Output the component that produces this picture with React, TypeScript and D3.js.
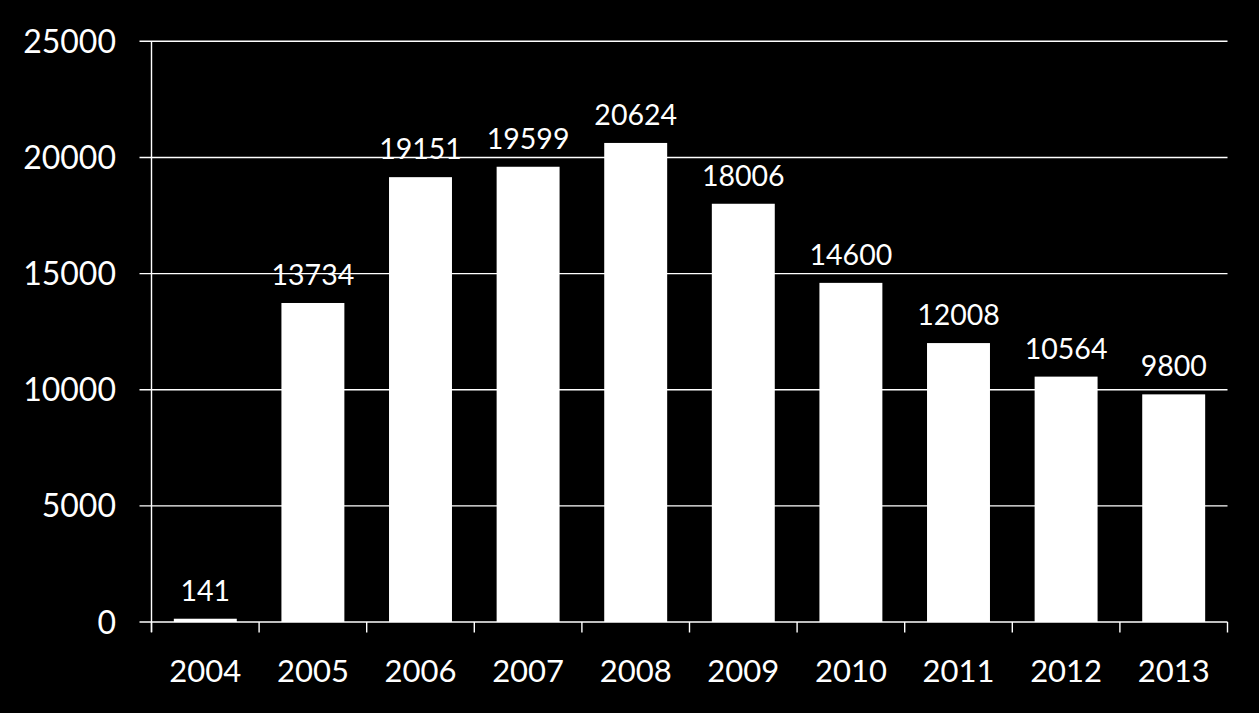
import * as d3 from "d3";
import { useEffect, useRef } from "react";

const years = ["2004", "2005", "2006", "2007", "2008", "2009", "2010", "2011", "2012", "2013"];
const counts = [141, 13734, 19151, 19599, 20624, 18006, 14600, 12008, 10564, 9800];
const yTicks = [0, 5000, 10000, 15000, 20000, 25000];

const WIDTH = 1259;
const HEIGHT = 713;
const FONT = "Lato, 'Open Sans', sans-serif";

export default function App() {
  const ref = useRef<SVGSVGElement>(null);

  useEffect(() => {
    const svg = d3.select(ref.current);
    svg.selectAll("*").remove();

    const left = 151.5;
    const right = 1227.5;
    const top = 41.3;
    const bottom = 622;

    svg.append("rect").attr("width", WIDTH).attr("height", HEIGHT).attr("fill", "#000");

    const x = d3.scaleBand().domain(years).range([left, right]).padding(0);
    const y = d3.scaleLinear().domain([0, 25000]).range([bottom, top]);

    // gridlines + y labels
    const grid = svg.append("g");
    grid
      .selectAll("line")
      .data(yTicks)
      .enter()
      .append("line")
      .attr("x1", left - 12)
      .attr("x2", right)
      .attr("y1", (d) => y(d))
      .attr("y2", (d) => y(d))
      .attr("stroke", "#fff")
      .attr("stroke-width", 1.4);

    grid
      .selectAll("text")
      .data(yTicks)
      .enter()
      .append("text")
      .attr("x", 116)
      .attr("y", (d) => y(d) + 11.5)
      .attr("text-anchor", "end")
      .attr("fill", "#fff")
      .style("font-family", FONT)
      .style("font-size", "32px")
      .text((d) => String(d));

    // y axis line
    svg
      .append("line")
      .attr("x1", left)
      .attr("x2", left)
      .attr("y1", top)
      .attr("y2", bottom + 10)
      .attr("stroke", "#fff")
      .attr("stroke-width", 1.4);

    // x category ticks
    const bounds = years.map((yr) => x(yr) as number).concat([right]);
    svg
      .append("g")
      .selectAll("line")
      .data(bounds)
      .enter()
      .append("line")
      .attr("x1", (d) => d)
      .attr("x2", (d) => d)
      .attr("y1", bottom)
      .attr("y2", bottom + 10.5)
      .attr("stroke", "#fff")
      .attr("stroke-width", 1.4);

    const barW = x.bandwidth() * 0.585;

    const bars = svg.append("g");
    bars
      .selectAll("rect")
      .data(counts)
      .enter()
      .append("rect")
      .attr("x", (_d, i) => (x(years[i]) as number) + (x.bandwidth() - barW) / 2)
      .attr("y", (d) => y(d))
      .attr("width", barW)
      .attr("height", (d) => bottom - y(d))
      .attr("fill", "#fff");

    bars
      .selectAll("text")
      .data(counts)
      .enter()
      .append("text")
      .attr("x", (_d, i) => (x(years[i]) as number) + x.bandwidth() / 2)
      .attr("y", (d) => y(d) - 18)
      .attr("text-anchor", "middle")
      .attr("fill", "#fff")
      .style("font-family", FONT)
      .style("font-size", "28.5px")
      .text((d) => String(d));

    // x labels
    svg
      .append("g")
      .selectAll("text")
      .data(years)
      .enter()
      .append("text")
      .attr("x", (d) => (x(d) as number) + x.bandwidth() / 2)
      .attr("y", 681.7)
      .attr("text-anchor", "middle")
      .attr("fill", "#fff")
      .style("font-family", FONT)
      .style("font-size", "31px")
      .text((d) => d);
  }, []);

  return (
    <svg
      ref={ref}
      width={WIDTH}
      height={HEIGHT}
      style={{ position: "absolute", left: 0, top: 0, display: "block" }}
    />
  );
}
